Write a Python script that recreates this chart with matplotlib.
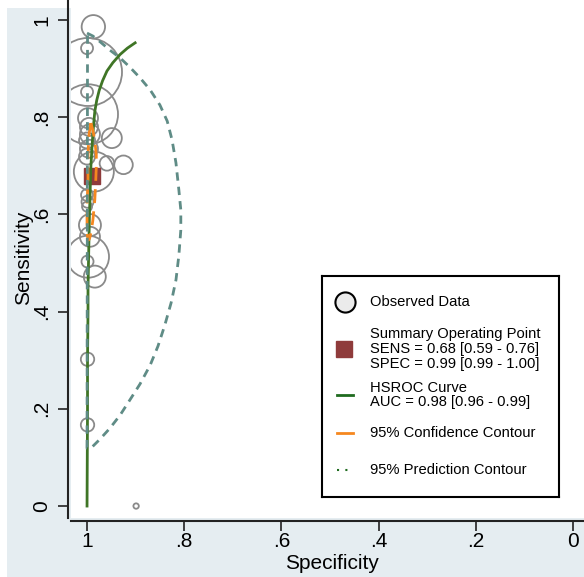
import matplotlib
matplotlib.use('Agg')
import matplotlib.pyplot as plt
from matplotlib.patches import Rectangle

plt.rcParams['font.family'] = ['Liberation Sans', 'DejaVu Sans']

# observed studies (specificity, sensitivity, relative study weight)
obs_spec = [0.987, 1.000, 0.998, 1.000, 0.998, 0.998, 0.996, 0.994, 1.000, 0.996,
            1.000, 0.949, 0.925, 0.959, 0.986, 1.000, 0.999, 1.000, 0.994, 0.994,
            0.998, 0.999, 0.984, 0.999, 0.999, 0.899]
obs_sens = [0.986, 0.942, 0.893, 0.852, 0.806, 0.798, 0.780, 0.765, 0.752, 0.735,
            0.719, 0.757, 0.702, 0.705, 0.688, 0.640, 0.626, 0.616, 0.578, 0.554,
            0.513, 0.503, 0.472, 0.302, 0.167, 0.000]
obs_weight = [11.7, 6, 34, 6, 30, 10, 9, 10, 8, 9,
              8, 10, 9.3, 7.3, 20, 6, 6, 5, 11, 10,
              21, 6, 11, 6.7, 6.7, 2.7]

# summary operating point
sum_spec = 0.99
sum_sens = 0.68

# HSROC curve
hsroc_spec = [1.000, 0.9995, 0.999, 0.999, 0.998, 0.998, 0.997, 0.996, 0.995, 0.994, 0.993,
              0.992, 0.990, 0.988, 0.986, 0.984, 0.980, 0.975, 0.968, 0.959, 0.947, 0.932,
              0.917, 0.901]
hsroc_sens = [0.000, 0.100, 0.200, 0.300, 0.400, 0.450, 0.500, 0.550, 0.600, 0.630, 0.670,
              0.700, 0.735, 0.765, 0.790, 0.812, 0.835, 0.855, 0.875, 0.895, 0.912, 0.929,
              0.942, 0.953]

# 95% confidence contour
conf_spec = [0.992, 0.989, 0.986, 0.983, 0.981, 0.981, 0.982, 0.984, 0.986, 0.988, 0.991,
             0.994, 0.996, 0.998, 0.999, 1.000, 1.000, 0.999, 0.998, 0.998, 0.997, 0.996,
             0.994, 0.992]
conf_sens = [0.788, 0.777, 0.763, 0.743, 0.722, 0.696, 0.671, 0.630, 0.609, 0.588, 0.568,
             0.553, 0.548, 0.547, 0.556, 0.568, 0.619, 0.645, 0.671, 0.722, 0.745, 0.763,
             0.778, 0.788]

# 95% prediction contour
pred_spec = [1.000, 0.988, 0.973, 0.953, 0.932, 0.912, 0.891, 0.870, 0.850, 0.835, 0.825,
             0.817, 0.811, 0.807, 0.807, 0.811, 0.817, 0.827, 0.840, 0.854, 0.870, 0.891,
             0.912, 0.932, 0.953, 0.973, 0.990, 0.998, 1.000, 0.999]
pred_sens = [0.973, 0.967, 0.955, 0.938, 0.922, 0.903, 0.881, 0.856, 0.825, 0.792, 0.753,
             0.706, 0.650, 0.609, 0.568, 0.516, 0.465, 0.418, 0.372, 0.329, 0.290, 0.251,
             0.218, 0.187, 0.160, 0.138, 0.121, 0.119, 0.119, 0.973]

ticks = [1, 0.8, 0.6, 0.4, 0.2, 0]
tick_labels = ['1', '.8', '.6', '.4', '.2', '0']

legend_text = ['Observed Data',
               'Summary Operating Point\nSENS = 0.68 [0.59 - 0.76]\nSPEC = 0.99 [0.99 - 1.00]',
               'HSROC Curve\nAUC = 0.98 [0.96 - 0.99]',
               '95% Confidence Contour',
               '95% Prediction Contour']

bg = '#e5edf1'
c_circle = '#8a8a8a'
c_sum = '#8f3b3b'
c_hsroc = '#3f7526'
c_conf = '#f5871f'
c_pred = '#5f8c86'

fig = plt.figure(figsize=(5.84, 5.77), dpi=100, facecolor='white')
fig.patches.append(Rectangle((7 / 584, 0), 1, (577 - 8) / 577, transform=fig.transFigure,
                             facecolor=bg, edgecolor='none', zorder=-10))

ax = fig.add_axes([71 / 584, (577 - 518.2) / 577, 521.4 / 584, 520.1 / 577])
ax.set_facecolor('white')

sizes = [(2 * w * 0.72) ** 2 for w in obs_weight]
ax.scatter(obs_spec, obs_sens, s=sizes, facecolors='none', edgecolors=c_circle,
           linewidths=1.3, zorder=2)
ax.plot(sum_spec, sum_sens, 's', ms=11, color=c_sum, zorder=3)
ax.plot(hsroc_spec, hsroc_sens, color=c_hsroc, lw=2, zorder=4)
ax.plot(conf_spec, conf_sens, color=c_conf, lw=2, dashes=(5, 3), zorder=5)
ax.plot(pred_spec, pred_sens, color=c_pred, lw=2, dashes=(3, 2.2), zorder=5)

ax.set_xlim(1.033, -0.04)
ax.set_ylim(-0.025, 1.045)
for s in ['top', 'right']:
    ax.spines[s].set_visible(False)
for s in ['left', 'bottom']:
    ax.spines[s].set_position(('outward', 2))
    ax.spines[s].set_linewidth(1.5)
    ax.spines[s].set_color('#222222')

ax.set_xticks(ticks)
ax.set_xticklabels(tick_labels)
ax.set_yticks(ticks)
ax.set_yticklabels(tick_labels, rotation=90, va='center')
ax.tick_params(length=7, width=1.2, color='#222222', labelsize=15)
ax.tick_params(axis='x', pad=1)
ax.tick_params(axis='y', pad=5)
ax.set_xlabel('Specificity', fontsize=15, labelpad=2)
ax.set_ylabel('Sensitivity', fontsize=15, labelpad=0)

# legend box
lax = fig.add_axes([322 / 584, (577 - 497) / 577, 237 / 584, 221 / 577])
lax.set_xlim(0, 237)
lax.set_ylim(221, 0)
lax.set_xticks([])
lax.set_yticks([])
for s in lax.spines.values():
    s.set_linewidth(1.5)
    s.set_color('black')

fs = 10.6
lax.plot(23, 26, 'o', ms=14.5, mfc='#ebebeb', mec='black', mew=1.5)
lax.text(48, 26, legend_text[0], va='center', fontsize=fs)
lax.plot(22, 73, 's', ms=11, color=c_sum)
lax.text(48, 73, legend_text[1], va='center', fontsize=fs, linespacing=1.05)
lax.plot([15, 31], [119, 119], color='#1f6b1f', lw=2)
lax.text(48, 119, legend_text[2], va='center', fontsize=fs, linespacing=1.05)
lax.plot([15, 31], [157, 157], color=c_conf, lw=2)
lax.text(48, 157, legend_text[3], va='center', fontsize=fs)
lax.plot([15, 31], [194, 194], color='#1f6b1f', lw=1.5, dashes=(1, 3))
lax.text(48, 194, legend_text[4], va='center', fontsize=fs)

fig.savefig('out.png', dpi=100, facecolor=fig.get_facecolor())
